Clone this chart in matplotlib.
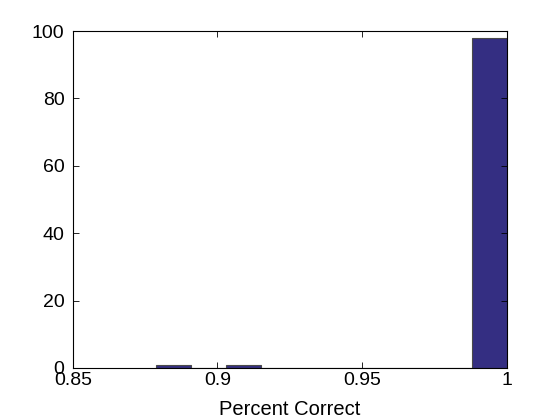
import numpy as np
import matplotlib
matplotlib.use('Agg')
import matplotlib.pyplot as plt

plt.rcParams['font.family'] = ['Liberation Sans', 'DejaVu Sans']

# histogram of percent correct, 10 bins between min and max value
bin_min = 0.8788
bin_max = 1.0
counts = [1, 0, 1, 0, 0, 0, 0, 0, 0, 98]
xticks = [0.85, 0.9, 0.95, 1.0]
xticklabels = ['0.85', '0.9', '0.95', '1']
yticks = [0, 20, 40, 60, 80, 100]

edges = np.linspace(bin_min, bin_max, len(counts) + 1)
width = edges[1] - edges[0]

fig = plt.figure(figsize=(5.6, 4.2), dpi=100)
ax = fig.add_axes([0.130, 0.124, 0.775, 0.802])
ax.bar(edges[:-1], counts, width=width, align='edge',
       facecolor='#342E82', edgecolor='#4a4a4a', linewidth=0.8)

ax.set_xlim(0.85, 1.0)
ax.set_ylim(0, 100)
ax.set_xticks(xticks)
ax.set_xticklabels(xticklabels)
ax.set_yticks(yticks)
ax.tick_params(direction='in', top=True, right=True, labelsize=14,
               length=4, width=0.6)
ax.tick_params(axis='y', pad=6)
ax.tick_params(axis='x', pad=3)
for s in ax.spines.values():
    s.set_linewidth(0.8)
ax.set_xlabel('Percent Correct', fontsize=14.5, labelpad=8)

fig.savefig('out.png', dpi=100)
